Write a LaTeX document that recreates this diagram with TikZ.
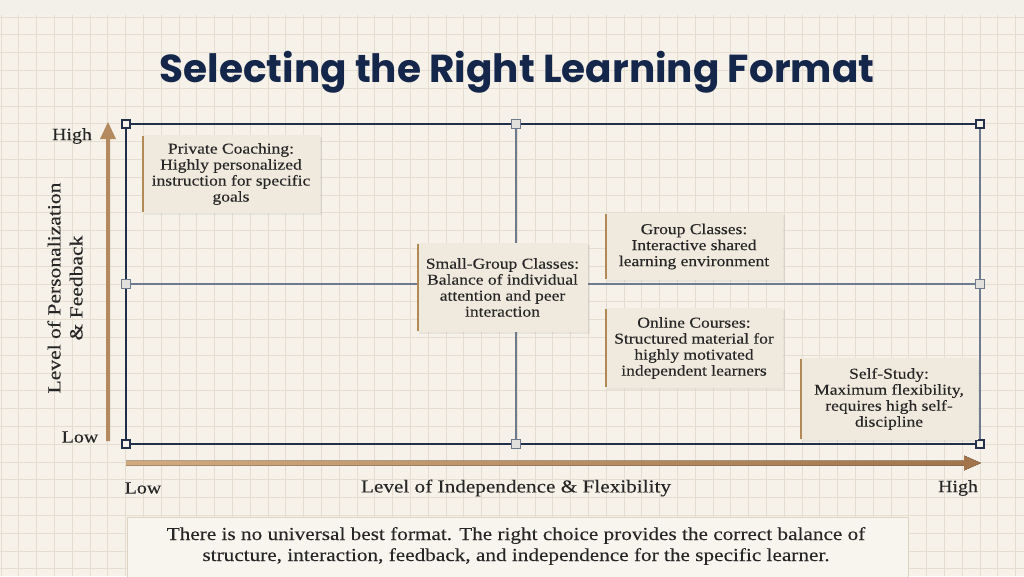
\documentclass[tikz,border=0pt]{standalone}
\usepackage{fontspec}
\setmainfont{Liberation Serif}[FakeStretch=1.16, FakeBold=0.2]
\newfontfamily\titlefont{Poppins}
\usetikzlibrary{shadows}
\definecolor{bgc}{HTML}{F6F2E9}
\definecolor{topc}{HTML}{F3F0EA}
\definecolor{gridc}{HTML}{E5DED0}
\definecolor{framec}{HTML}{22304A}
\definecolor{midc}{HTML}{6E7B8F}
\definecolor{titlec}{HTML}{14264A}
\definecolor{txtc}{HTML}{262626}
\definecolor{axisc}{HTML}{B48A60}
\definecolor{axisl}{HTML}{D2AA7E}
\definecolor{axisd}{HTML}{A2744C}
\definecolor{cardc}{HTML}{F0E9DD}
\definecolor{barc}{HTML}{B18A56}
\definecolor{notec}{HTML}{F8F5EE}
\definecolor{noteb}{HTML}{DDD4C3}
\tikzset{
  card/.style={fill=cardc, draw=none, align=center, text=txtc, inner sep=0pt,
    font=\fontsize{15.1}{16}\selectfont,
    drop shadow={opacity=0.12, shadow xshift=1.5pt, shadow yshift=-2pt}},
  cardbar/.style={draw=barc, line width=2.4pt},
  mk/.style={draw=framec, fill=bgc, line width=1.8pt, minimum size=8.5pt, inner sep=0pt},
  mkg/.style={draw=midc, fill=bgc!85!midc, line width=1.3pt, minimum size=8.5pt, inner sep=0pt},
  lbl/.style={text=txtc, inner sep=0pt},
}
\begin{document}
\begin{tikzpicture}[x=1pt,y=-1pt]
\useasboundingbox (0,0) rectangle (1024,576);
% background
\fill[bgc] (0,0) rectangle (1024,576);
\fill[topc] (0,0) rectangle (1024,15);
\foreach \i in {0,...,57} {\draw[gridc, line width=0.8pt] ({1+17.8*\i},15) -- ({1+17.8*\i},576);}
\foreach \j in {0,...,31} {\draw[gridc, line width=0.8pt] (0,{17+17.8*\j}) -- (1024,{17+17.8*\j});}
% title
\node[text=titlec, font=\titlefont\bfseries\fontsize{39}{42}\selectfont] (title) at (517,72) {Selecting the Right Learning Format};
% frame coordinates
\coordinate (tl) at (126,124);
\coordinate (tm) at (516,124);
\coordinate (tr) at (980,124);
\coordinate (ml) at (126,284);
\coordinate (mr) at (980,284);
\coordinate (bl) at (126,444);
\coordinate (bm) at (516,444);
\coordinate (br) at (980,444);
% midlines
\draw[midc, line width=1.4pt] (tm) -- (bm);
\draw[midc, line width=1.4pt] (ml) -- (mr);
% frame
\draw[framec, line width=2pt] (tl) -- (tr);
\draw[framec, line width=2pt] (bl) -- (br);
\draw[framec, line width=2pt] (tl) -- (bl);
\draw[midc, line width=1.7pt] (tr) -- (br);
% markers
\foreach \p in {tl,tr,bl,br} {\node[mk] at (\p) {};}
\foreach \p in {tm,bm,ml,mr} {\node[mkg] at (\p) {};}
% vertical axis arrow
\coordinate (vb) at (108,122);
\fill[axisc] (106,441) -- (106,139) -- (100,139) -- (vb) -- (116,139) -- (110,139) -- (110,441) -- cycle;
% horizontal axis arrow
\coordinate (hb) at (981,463);
\fill[left color=axisl, right color=axisd] (126,460.5) -- (964,460.5) -- (964,455.5) -- (hb) -- (964,470.5) -- (964,465.5) -- (126,465.5) -- cycle;
% axis labels
\node[lbl, font=\fontsize{17.2}{19}\selectfont] (yhigh) at (72,136) {High};
\node[lbl, font=\fontsize{17.2}{19}\selectfont] (ylow) at (80,437) {Low};
\node[lbl, rotate=90, align=center, font=\fontsize{18.6}{22}\selectfont] (ytitle) at (65,288) {Level of Personalization\\ \& Feedback};
\node[lbl, font=\fontsize{17.2}{19}\selectfont] (xlow) at (143,488) {Low};
\node[lbl, font=\fontsize{18.3}{20}\selectfont] (xtitle) at (516,488) {Level of Independence \& Flexibility};
\node[lbl, font=\fontsize{17.2}{19}\selectfont] (xhigh) at (958,488) {High};
% cards
\node[card, minimum width=178pt, minimum height=78pt] (pc) at (231,174) {Private Coaching:\\Highly personalized\\instruction for specific\\goals};
\draw[cardbar] ([xshift=1pt,yshift=-1pt]pc.north west) -- ([xshift=1pt,yshift=1pt]pc.south west);
\node[card, minimum width=171pt, minimum height=89pt] (sg) at (502.5,287.5) {Small-Group Classes:\\Balance of individual\\attention and peer\\interaction};
\draw[cardbar] ([xshift=1pt,yshift=-1pt]sg.north west) -- ([xshift=1pt,yshift=1pt]sg.south west);
\node[card, minimum width=178pt, minimum height=67pt] (gc) at (694,246.5) {Group Classes:\\Interactive shared\\learning environment};
\draw[cardbar] ([xshift=1pt,yshift=-1pt]gc.north west) -- ([xshift=1pt,yshift=1pt]gc.south west);
\node[card, minimum width=178pt, minimum height=80pt] (oc) at (694,348) {Online Courses:\\Structured material for\\highly motivated\\independent learners};
\draw[cardbar] ([xshift=1pt,yshift=-1pt]oc.north west) -- ([xshift=1pt,yshift=1pt]oc.south west);
\node[card, minimum width=178pt, minimum height=82pt] (ss) at (889,399) {Self-Study:\\Maximum flexibility,\\requires high self-\\discipline};
\draw[cardbar] ([xshift=1pt,yshift=-1pt]ss.north west) -- ([xshift=1pt,yshift=1pt]ss.south west);
% note
\node[fill=notec, draw=noteb, line width=0.8pt, minimum width=781pt, minimum height=64pt, anchor=north west, inner sep=0pt] (notebox) at (127,517) {};
\node[lbl, align=center, font=\fontsize{18.3}{21}\selectfont] (note) at (516,546) {There is no universal best format. The right choice provides the correct balance of\\structure, interaction, feedback, and independence for the specific learner.};
\end{tikzpicture}
\end{document}
